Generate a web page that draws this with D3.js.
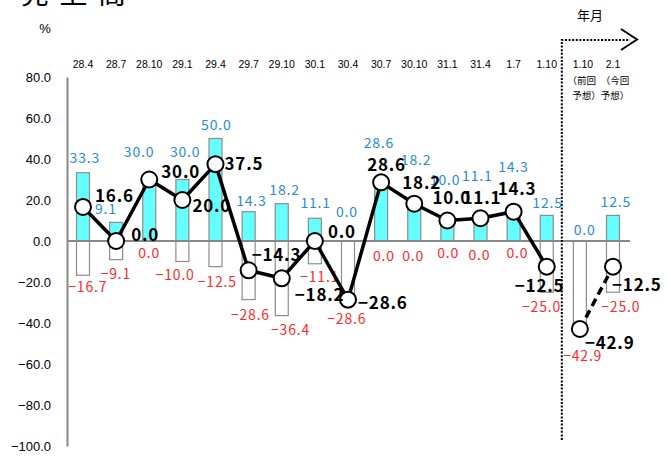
<!DOCTYPE html>
<html><head><meta charset="utf-8">
<script src="https://cdn.jsdelivr.net/npm/d3@7"></script>
<style>
html,body{margin:0;padding:0;background:#fff;}
svg{display:block;}
</style></head>
<body>
<svg id="chart" width="668" height="458"></svg>
<script>
// ---- data ----
const categories = ["28.4","28.7","28.10","29.1","29.4","29.7","29.10","30.1","30.4","30.7","30.10","31.1","31.4","1.7","1.10","1.10","2.1"];
const positiveShare = [33.3,9.1,30.0,30.0,50.0,14.3,18.2,11.1,0.0,28.6,18.2,10.0,11.1,14.3,12.5,0.0,12.5];
const negativeShare = [-16.7,-9.1,0.0,-10.0,-12.5,-28.6,-36.4,-11.1,-28.6,0.0,0.0,0.0,0.0,0.0,-25.0,-42.9,-25.0];
const diValues      = [16.6,0.0,30.0,20.0,37.5,-14.3,-18.2,0.0,-28.6,28.6,18.2,10.0,11.1,14.3,-12.5,-42.9,-12.5];
const yTicks = [80,60,40,20,0,-20,-40,-60,-80,-100];
const forecastStart = 15;
const forecastNotes = [["（前回","　予想）"],["（今回","予想）"]];
const titleChars = ["売","上","高"];

// ---- label layout (pixel offsets, not data) ----
const blueOff = [[1,-15],[-11,-13],[-11,-27],[2,-27],[0,-13],[2,-11],[2,-14],[0,-15],[-2,-29],[-3,-39],[1,-44],[-3,-40],[-4,-42],[-1,-45],[0,-12],[4,-11],[2,-13]];
const redOff  = [[4,12],[-1,14],[-1,12],[-8,14],[1,15],[1,15],[8,14],[4,13],[-2,19],[2,15],[-2,15],[0,12],[-2,14],[3,12],[-6,15],[2,27],[7,15]];
const blackOff= [[12,-11],[15,-6],[12,-7],[10,6],[9,0],[3,-15],[13,17],[13,-9],[10,3],[-14,-17],[-12,-21],[-15,-22],[-18,-20],[-16,-23],[-32,19],[5,14],[-1,18]];

const svg = d3.select("#chart");
const x = d3.scalePoint().domain(d3.range(categories.length)).range([83, 613]);
const y = d3.scaleLinear().domain([-100, 80]).range([446, 77]);
const fmt = d3.format(".1f");
const fmtLbl = v => fmt(v).replace("-", "−");
const barW = 13;
const lblFont = "'Noto Sans CJK JP', 'Noto Sans', sans-serif";

// title (cut off at top)
svg.append("g").selectAll("text").data(titleChars).join("text")
  .attr("x", (d,i) => 35 + i*38.5).attr("y", 4)
  .attr("text-anchor","middle")
  .attr("font-family", lblFont).attr("font-size", 28)
  .text(d => d);

// % unit
svg.append("text").attr("x", 45).attr("y", 33).attr("text-anchor","middle")
  .attr("font-family","'Liberation Sans', Arial, sans-serif").attr("font-size",13).text("%");

// 年月
svg.append("text").attr("x", 590).attr("y", 20).attr("text-anchor","middle")
  .attr("font-family", lblFont).attr("font-size",13).text("年月");

// y axis
const yAxis = d3.axisLeft(y).tickValues(yTicks).tickSize(0).tickPadding(16).tickFormat(fmt);
const gy = svg.append("g").attr("transform","translate(67,0)").call(yAxis);
gy.select(".domain").attr("stroke","#888").attr("stroke-width",2);
gy.selectAll("text").attr("font-family","'Liberation Sans', Arial, sans-serif").attr("font-size",13).attr("fill","#000");

// category labels at top
svg.append("g").selectAll("text").data(categories).join("text")
  .attr("x", (d,i) => x(i) + (i === forecastStart ? 3 : 0)).attr("y", 64)
  .attr("dy","0.35em").attr("text-anchor","middle")
  .attr("font-family","'Liberation Sans', Arial, sans-serif").attr("font-size",10.5)
  .text(d => d);

// forecast notes
forecastNotes.forEach((lines, k) => {
  const i = forecastStart + k;
  lines.forEach((t, j) => {
    svg.append("text").attr("x", x(i) + 2).attr("y", 81 + j*15).attr("dy","0.35em")
      .attr("text-anchor","middle").attr("font-family", lblFont).attr("font-size",9.5).text(t);
  });
});

// bars
const gb = svg.append("g");
gb.selectAll("rect.neg").data(negativeShare).join("rect").attr("class","neg")
  .attr("x",(d,i)=>x(i)-barW/2).attr("width",barW)
  .attr("y", y(0)).attr("height", d => y(d) - y(0))
  .attr("fill","#fff").attr("stroke","#8c8c8c").attr("stroke-width",1.2);
gb.selectAll("rect.pos").data(positiveShare).join("rect").attr("class","pos")
  .attr("x",(d,i)=>x(i)-barW/2).attr("width",barW)
  .attr("y", d => y(d)).attr("height", d => y(0) - y(d))
  .attr("fill","#66ffff").attr("stroke","#8c8c8c").attr("stroke-width",1.2);

// zero line
svg.append("line").attr("x1",67).attr("x2",630).attr("y1",y(0)).attr("y2",y(0))
  .attr("stroke","#888").attr("stroke-width",2);

// dotted forecast separator + arrow
const sepX = (x(forecastStart-1) + x(forecastStart))/2 - 1.5;
svg.append("path").attr("d", `M${sepX},440 V40 H630`)
  .attr("fill","none").attr("stroke","#000").attr("stroke-width",2).attr("stroke-dasharray","2,1.6");
svg.append("path").attr("d","M621,29 L637,39.5 L621,50")
  .attr("fill","none").attr("stroke","#000").attr("stroke-width",2);

// blue labels
svg.append("g").selectAll("text").data(positiveShare).join("text")
  .attr("x",(d,i)=>x(i)+blueOff[i][0]+0.8).attr("y",(d,i)=>y(d)+blueOff[i][1])
  .attr("dy","0.35em").attr("text-anchor","middle")
  .attr("font-family", lblFont).attr("font-size",14).attr("letter-spacing","0.8px").attr("fill","#2a8ad8")
  .text(d => fmtLbl(d));

// red labels
svg.append("g").selectAll("text").data(negativeShare).join("text")
  .attr("x",(d,i)=>x(i)+redOff[i][0]+0.8).attr("y",(d,i)=>y(d)+redOff[i][1])
  .attr("dy","0.35em").attr("text-anchor","middle")
  .attr("font-family", lblFont).attr("font-size",14).attr("letter-spacing","0.8px").attr("fill","#ff2a2a")
  .text(d => fmtLbl(d));

// line
const line = d3.line().x(d=>x(d.i)).y(d=>y(d.v));
const pts = diValues.map((v,i)=>({i,v}));
svg.append("path").datum(pts.slice(0, forecastStart)).attr("d", line)
  .attr("fill","none").attr("stroke","#000").attr("stroke-width",3.5).attr("stroke-linejoin","round");
svg.append("path").datum(pts.slice(forecastStart)).attr("d", line)
  .attr("fill","none").attr("stroke","#000").attr("stroke-width",3.5).attr("stroke-dasharray","8,5");
svg.append("g").selectAll("circle").data(pts).join("circle")
  .attr("cx",d=>x(d.i)).attr("cy",d=>y(d.v)).attr("r",8)
  .attr("fill","#fff").attr("stroke","#000").attr("stroke-width",2);

// black labels
svg.append("g").selectAll("text").data(diValues).join("text")
  .attr("x",(d,i)=>x(i)+blackOff[i][0]).attr("y",(d,i)=>y(d)+blackOff[i][1])
  .attr("dy","0.35em").attr("text-anchor","start")
  .attr("font-family", lblFont).attr("font-size",17).attr("font-weight","bold").attr("letter-spacing","0.8px").attr("fill","#000")
  .text(d => fmtLbl(d));
</script>
</body></html>
